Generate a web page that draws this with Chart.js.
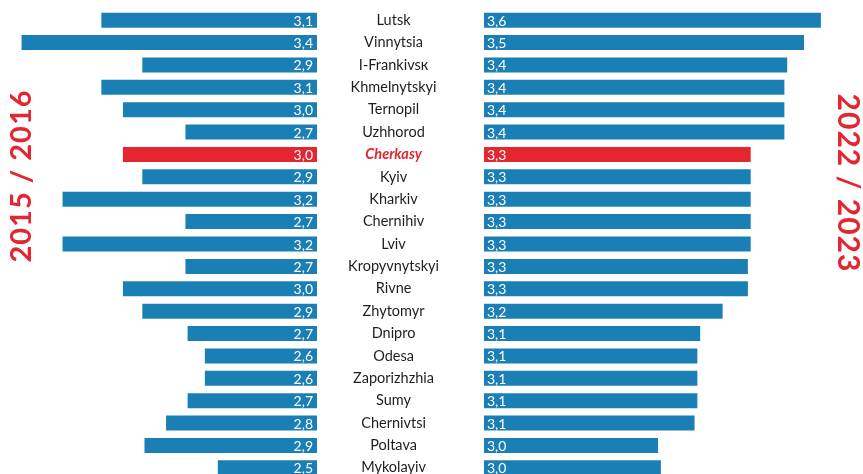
<!DOCTYPE html>
<html>
<head>
<meta charset="utf-8">
<script src="https://cdn.jsdelivr.net/npm/chart.js@4.4.1/dist/chart.umd.min.js"></script>
<style>
  html, body { margin: 0; padding: 0; background: #fff; overflow: hidden; }
  #wrap { position: relative; width: 863px; height: 474px; overflow: hidden; }
  #boxLeft { position: absolute; left: 0; top: 0; width: 317px; height: 482px; }
  #boxRight { position: absolute; left: 306px; top: 0; width: 557px; height: 482px; }
</style>
</head>
<body>
<div id="wrap">
  <div id="boxLeft"><canvas id="chartLeft"></canvas></div>
  <div id="boxRight"><canvas id="chartRight"></canvas></div>
</div>
<script>
// cities, sorted by the 2022/2023 score
const cities = [
  'Lutsk', 'Vinnytsia', 'I-Frankivsк', 'Khmelnytskyi', 'Ternopil', 'Uzhhorod',
  'Cherkasy', 'Kyiv', 'Kharkiv', 'Chernihiv', 'Lviv', 'Kropyvnytskyi', 'Rivne',
  'Zhytomyr', 'Dnipro', 'Odesa', 'Zaporizhzhia', 'Sumy', 'Chernivtsi', 'Poltava', 'Mykolayiv'
];
const highlightCity = 'Cherkasy';

// scores (labels show them rounded to one decimal)
const values2016 = [
  3.06, 3.43, 2.87, 3.06, 2.96, 2.67,
  2.96, 2.87, 3.24, 2.67, 3.24, 2.67, 2.96,
  2.87, 2.66, 2.58, 2.58, 2.66, 2.76, 2.86, 2.52
];
const values2023 = [
  3.56, 3.50, 3.44, 3.43, 3.43, 3.43,
  3.31, 3.31, 3.31, 3.31, 3.31, 3.30, 3.30,
  3.21, 3.13, 3.12, 3.12, 3.12, 3.11, 2.98, 2.99
];

const titleLeft = '2015 / 2016';
const titleRight = '2022 / 2023';

const BLUE = '#1a7fb5';
const RED = '#e3262f';
const FONT = "Lato, 'Open Sans', sans-serif";

Chart.defaults.font.family = FONT;
Chart.defaults.animation = false;

const barColors = cities.map(c => c === highlightCity ? RED : BLUE);

function fmt(v) {
  return v.toFixed(1).replace('.', ',');
}

// white value text at the base of every bar + the rotated period caption
function makeDecor(align, offset, title) {
  return {
    id: 'decor',
    afterDraw(chart) {
      const ctx = chart.ctx;
      const xs = chart.scales.x;
      const values = chart.data.datasets[0].data;
      const bars = chart.getDatasetMeta(0).data;
      // bar.base points at 0 (off canvas), so use the axis minimum instead
      const baseX = xs.getPixelForValue(xs.min);

      ctx.save();
      ctx.font = '14px ' + FONT;
      ctx.fillStyle = '#ffffff';
      ctx.textBaseline = 'middle';
      ctx.textAlign = align;
      for (let i = 0; i < bars.length; i++) {
        ctx.fillText(fmt(values[i]), baseX + offset, bars[i].y + 1);
      }
      ctx.restore();

      ctx.save();
      ctx.translate(title.x, title.y);
      ctx.rotate(title.angle);
      ctx.font = 'bold ' + title.size + 'px ' + FONT;
      ctx.letterSpacing = '1px';
      ctx.fillStyle = RED;
      ctx.textAlign = 'center';
      ctx.textBaseline = 'middle';
      ctx.fillText(title.text, 0, 0);
      ctx.restore();
    }
  };
}

// --- left: 2015/2016, bars grow to the left ---
new Chart(document.getElementById('chartLeft'), {
  type: 'bar',
  data: {
    labels: cities,
    datasets: [{
      data: values2016,
      backgroundColor: barColors,
      barPercentage: 0.67,
      categoryPercentage: 1
    }]
  },
  options: {
    indexAxis: 'y',
    responsive: true,
    maintainAspectRatio: false,
    layout: { padding: { top: 9, bottom: 3, left: 0, right: 0 } },
    scales: {
      x: { display: false, reverse: true, min: 2.06, max: 3.53 },
      y: { display: false }
    },
    plugins: {
      legend: { display: false },
      tooltip: { enabled: false }
    }
  },
  plugins: [makeDecor('right', -4, { text: titleLeft, x: 22, y: 176, angle: -Math.PI / 2, size: 29 })]
});

// --- right: 2022/2023, city names sit on its y axis ---
new Chart(document.getElementById('chartRight'), {
  type: 'bar',
  data: {
    labels: cities,
    datasets: [{
      data: values2023,
      backgroundColor: barColors,
      barPercentage: 0.67,
      categoryPercentage: 1
    }]
  },
  options: {
    indexAxis: 'y',
    responsive: true,
    maintainAspectRatio: false,
    layout: { padding: { top: 9, bottom: 3, left: 0, right: 0 } },
    scales: {
      x: { display: false, min: 2.36, max: 3.71 },
      y: {
        position: 'left',
        grid: { display: false, drawTicks: false },
        border: { display: false },
        ticks: {
          crossAlign: 'center',
          padding: 45,
          color: c => cities[c.index] === highlightCity ? RED : '#1e1e1e',
          font: c => cities[c.index] === highlightCity
            ? { size: 14.5, weight: 'bold', style: 'italic' }
            : { size: 14.5 }
        },
        afterFit(scale) {
          scale.width = 178;
          scale.paddingTop = 0;
          scale.paddingBottom = 0;
        }
      }
    },
    plugins: {
      legend: { display: false },
      tooltip: { enabled: false }
    }
  },
  plugins: [makeDecor('left', 3, { text: titleRight, x: 542, y: 183, angle: Math.PI / 2, size: 30 })]
});
</script>
</body>
</html>
